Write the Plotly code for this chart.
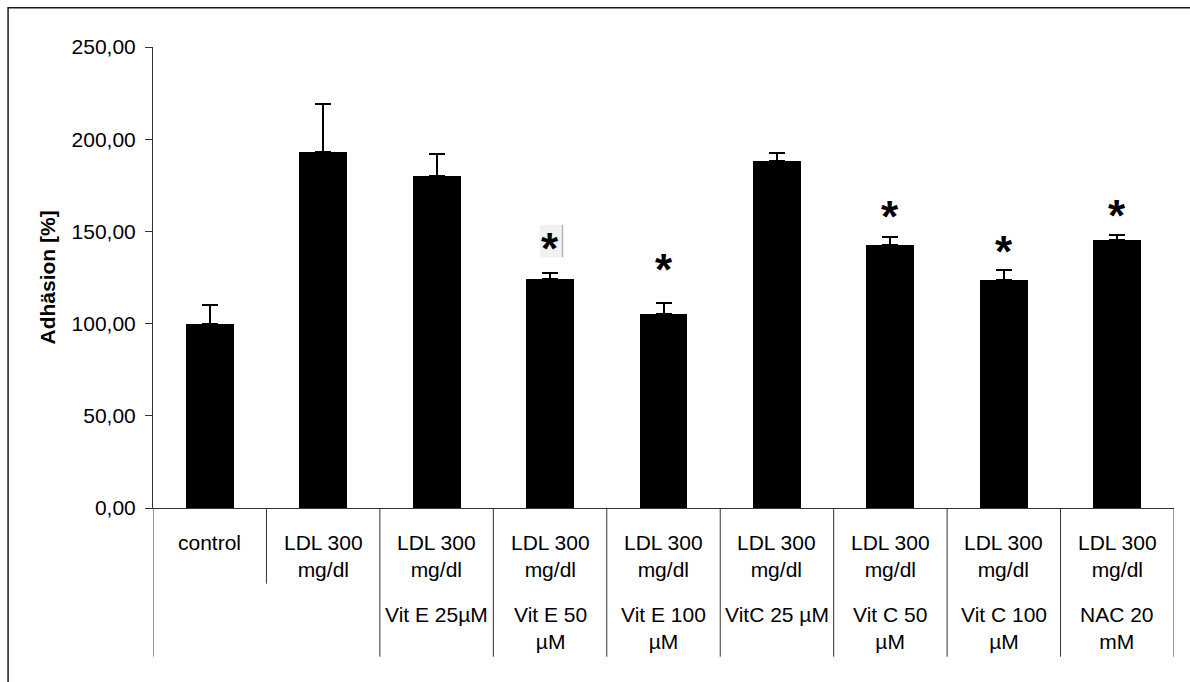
import plotly.graph_objects as go

# Adhesion per treatment group (mean and upper error)
level1 = ["control", "LDL 300<br>mg/dl", "LDL 300<br>mg/dl", "LDL 300<br>mg/dl", "LDL 300<br>mg/dl",
          "LDL 300<br>mg/dl", "LDL 300<br>mg/dl", "LDL 300<br>mg/dl", "LDL 300<br>mg/dl"]
level2 = ["", "", "Vit E 25µM", "Vit E 50<br>µM", "Vit E 100<br>µM", "VitC 25 µM",
          "Vit C 50<br>µM", "Vit C 100<br>µM", "NAC 20<br>mM"]
means = [100.0, 192.8, 179.8, 124.0, 105.2, 188.0, 142.8, 123.4, 145.5]
errors = [10.1, 26.5, 12.2, 3.6, 6.0, 4.3, 4.3, 5.7, 2.7]

# significance marks: category index and height of the star
star_idx = [3, 4, 6, 7, 8]
star_y = [144.9, 133.7, 162.3, 143.7, 162.7]

tick_vals = [0, 50, 100, 150, 200, 250]
tick_text = ["0,00", "50,00", "100,00", "150,00", "200,00", "250,00"]

FONT = "Liberation Sans, Arial, sans-serif"
AX = "#333333"
FS = 21

xs = list(range(len(means)))

fig = go.Figure()
fig.add_trace(go.Bar(
    x=xs, y=means, width=0.423,
    marker=dict(color="black", line=dict(width=0)),
    error_y=dict(type="data", array=errors, arrayminus=[0] * len(errors),
                 symmetric=False, color="black", thickness=2, width=8),
    showlegend=False, hoverinfo="skip",
))

# plot geometry in pixels
W, H = 1190, 682
L, R, T, B = 153, 15.5, 47.3, 173.7
ph = H - T - B
pw = W - L - R


def py(pixel_y):
    return (H - B - pixel_y) / ph


def px(pixel_x):
    return (pixel_x - L) / pw


shapes = []
# outer frame of the figure
shapes.append(dict(type="rect", xref="paper", yref="paper",
                   x0=px(8), x1=px(1300), y0=py(800), y1=py(8),
                   line=dict(color="#1a1a1a", width=1.5), layer="below"))

# category grid below the axis
n = len(means)
for k in range(n + 1):
    bottom = py(584) if k == 1 else py(657)
    shapes.append(dict(type="line", xref="x", yref="paper",
                       x0=k - 0.5, x1=k - 0.5, y0=0, y1=bottom,
                       line=dict(color=AX, width=1)))

# light patch behind the first star
shapes.append(dict(type="rect", xref="x", yref="y",
                   x0=2.91, x1=3.11, y0=135.9, y1=153.6,
                   fillcolor="#f1f1f1", line=dict(width=0), layer="below"))
shapes.append(dict(type="line", xref="x", yref="y",
                   x0=3.11, x1=3.11, y0=135.9, y1=153.6,
                   line=dict(color="#b5b5b5", width=1.5)))

annotations = []
for i in xs:
    annotations.append(dict(x=i, y=py(529), xref="x", yref="paper",
                            text=level1[i], showarrow=False,
                            xanchor="center", yanchor="top",
                            font=dict(family=FONT, size=FS, color="black")))
    if level2[i]:
        annotations.append(dict(x=i, y=py(601), xref="x", yref="paper",
                                text=level2[i], showarrow=False,
                                xanchor="center", yanchor="top",
                                font=dict(family=FONT, size=FS, color="black")))

for i, yv in zip(star_idx, star_y):
    annotations.append(dict(x=i, y=yv, xref="x", yref="y", text="<b>*</b>",
                            showarrow=False, xanchor="center", yanchor="middle",
                            yshift=-8,
                            font=dict(family=FONT, size=44, color="black")))

annotations.append(dict(x=0, y=0.5, xref="paper", yref="paper",
                        text="<b>Adhäsion [%]</b>", textangle=-90,
                        showarrow=False, xanchor="center", yanchor="middle",
                        xshift=47 - L,
                        font=dict(family=FONT, size=FS, color="black")))

fig.update_layout(
    width=W, height=H,
    margin=dict(l=L, r=R, t=T, b=B, pad=0),
    paper_bgcolor="white", plot_bgcolor="white",
    font=dict(family=FONT, size=FS, color="black"),
    bargap=0,
    xaxis=dict(range=[-0.5, n - 0.5], showticklabels=False, ticks="",
               showgrid=False, zeroline=False, showline=True,
               linecolor=AX, linewidth=1),
    yaxis=dict(range=[0, 250], tickvals=tick_vals, ticktext=tick_text,
               ticks="outside", ticklen=7, tickcolor=AX, tickwidth=1,
               ticklabelstandoff=5,
               showgrid=False, zeroline=False, showline=True,
               linecolor=AX, linewidth=1,
               tickfont=dict(family=FONT, size=FS, color="black")),
    shapes=shapes,
    annotations=annotations,
)

fig.write_html("out.html")
